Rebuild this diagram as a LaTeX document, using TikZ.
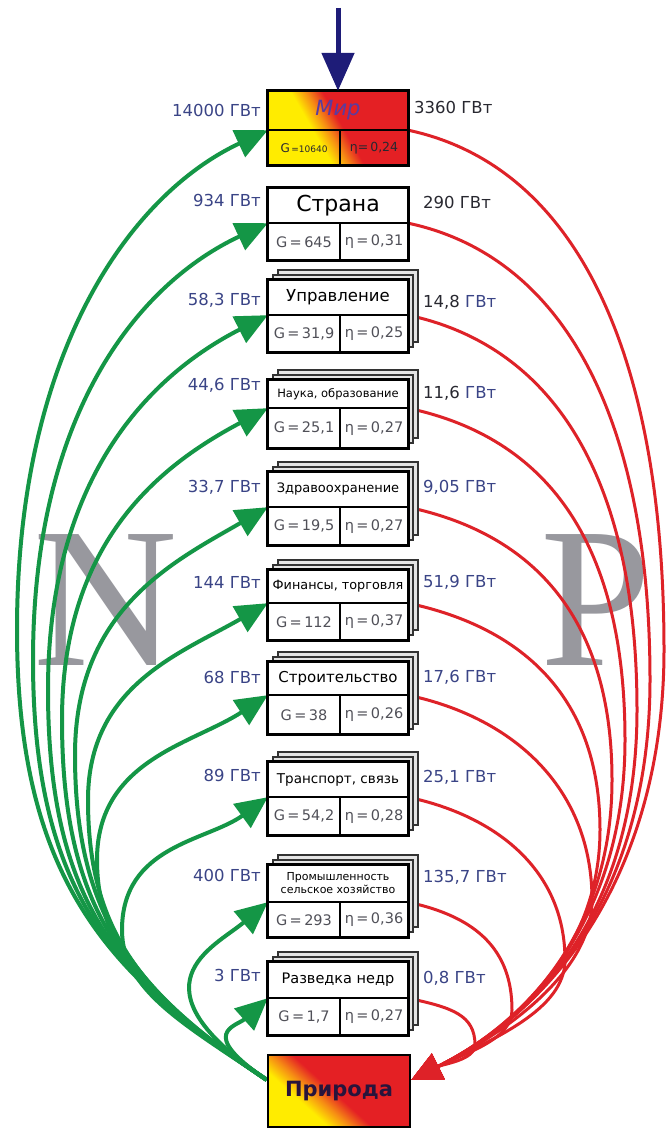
\documentclass[tikz,border=0pt]{standalone}
\usepackage{fontspec}
\setmainfont{DejaVu Sans}
\newfontfamily\letterfont{Liberation Serif}
\usetikzlibrary{arrows.meta,calc,backgrounds}

\definecolor{flowgreen}{RGB}{20,150,70}
\definecolor{flowred}{RGB}{222,34,40}
\definecolor{labelblue}{RGB}{58,68,134}
\definecolor{labeldark}{RGB}{40,40,48}
\definecolor{inflow}{RGB}{30,28,120}
\definecolor{lettergray}{RGB}{152,152,158}
\definecolor{hotyellow}{RGB}{255,236,0}
\definecolor{hotorange}{RGB}{246,140,20}
\definecolor{hotred}{RGB}{228,32,36}
\definecolor{celltext}{RGB}{80,80,88}
\definecolor{mirtext}{RGB}{90,60,160}
\definecolor{nattext}{RGB}{40,20,60}

\pgfdeclarehorizontalshading{mirshade}{100bp}{color(0bp)=(hotyellow); color(40bp)=(hotyellow); color(46bp)=(hotorange); color(52bp)=(hotred); color(100bp)=(hotred)}
\pgfdeclarehorizontalshading{natshade}{100bp}{color(0bp)=(hotyellow); color(34bp)=(hotyellow); color(41bp)=(hotorange); color(48bp)=(hotred); color(100bp)=(hotred)}

\newcommand\fs[1]{\fontsize{#1}{#1}\selectfont}

\tikzset{
  frame/.style={draw=black, line width=2.8pt},
  hdr/.style={inner sep=0pt, minimum width=140pt, align=center, text=black},
  cell/.style={inner sep=0pt, text=celltext, font=\fs{14.5}},
  sheet/.style={fill=black!10, draw=black!80, line width=1.2pt},
  gflow/.style={draw=flowgreen, line width=4pt, -{Triangle[length=32pt,width=29pt]}},
  rflow/.style={draw=flowred, line width=3pt, -{Triangle[length=30pt,width=28pt]}},
  flowlabel/.style={inner sep=0pt, text=labelblue, font=\fs{16.5}},
  bigletter/.style={inner sep=0pt, text=lettergray, font=\letterfont\fontsize{200}{200}\selectfont},
}

% sector box: name, top, divider, bottom, title, G cell, eta cell
\newcommand\sectorbox[7]{%
  \node[hdr, fill=white, minimum height={#3-#2}] (#1) at (338,{(#2+#3)/2}) {#5};
  \node[cell, fill=white, minimum width=72pt, minimum height={#4-#3}, anchor=north west] (#1-g) at (#1.south west) {#6};
  \node[cell, fill=white, minimum width=68pt, minimum height={#4-#3}, anchor=north east] (#1-e) at (#1.south east) {#7};
  \draw[line width=1.6pt] (#1-g.north east) -- (#1-g.south east);
  \draw[line width=2.4pt] (#1.south west) -- (#1.south east);
  \draw[frame] (#1.north west) rectangle (#1-e.south east);
}
\newcommand\stackedbox[7]{%
  \draw[sheet] (278,{#2-10}) rectangle (418,{#4-10});
  \draw[sheet] (273,{#2-5}) rectangle (413,{#4-5});
  \sectorbox{#1}{#2}{#3}{#4}{#5}{#6}{#7}%
}

\begin{document}
\begin{tikzpicture}[x=1pt,y=-1pt]
\useasboundingbox (0,0) rectangle (669,1129);

% ---------- world box ----------
\shade[shading=mirshade, shading angle=30] (268,91) rectangle (408,165);
\node[hdr, minimum height=39pt] (mir) at (338,110.5) {\fs{21}\itshape\color{mirtext}Мир};
\node[cell, minimum width=72pt, minimum height=35pt, anchor=north west] (mir-g) at (mir.south west) {\color{labeldark}\fs{12}G\fs{9}\,=10640};
\node[cell, minimum width=68pt, minimum height=35pt, anchor=north east] (mir-e) at (mir.south east) {\color{labeldark}\fs{12.5}η=\,0,24};
\draw[line width=1.6pt] (mir-g.north east) -- (mir-g.south east);
\draw[line width=2.4pt] (mir.south west) -- (mir.south east);
\draw[frame] (mir.north west) rectangle (mir-e.south east);

% ---------- sectors ----------
\sectorbox{str}{188}{223}{260}{\fs{22}Страна}{G\,=\,645}{η\,=\,0,31}
\stackedbox{upr}{280}{315}{352}{\fs{16.5}Управление}{G\,=\,31,9}{η\,=\,0,25}
\stackedbox{nau}{380}{408}{448}{\fs{11.5}Наука, образование}{G\,=\,25,1}{η\,=\,0,27}
\stackedbox{zdr}{472}{507}{545}{\fs{13}Здравоохранение}{G\,=\,19,5}{η\,=\,0,27}
\stackedbox{fin}{570}{603}{640}{\fs{12.8}Финансы, торговля}{G\,=\,112}{η\,=\,0,37}
\stackedbox{stroi}{662}{695}{734}{\fs{15}Строительство}{G\,=\,38}{η\,=\,0,26}
\stackedbox{tr}{762}{797}{835}{\fs{13.5}Транспорт, связь}{G\,=\,54,2}{η\,=\,0,28}
\stackedbox{prom}{865}{902}{937}{\fs{11}Промышленность\\[1pt]\fs{11}сельское хозяйство}{G\,=\,293}{η\,=\,0,36}
\stackedbox{razv}{962}{998}{1035}{\fs{14.5}Разведка недр}{G\,=\,1,7}{η\,=\,0,27}

% ---------- nature box ----------
\shade[shading=natshade, shading angle=48] (268,1055) rectangle (410,1127);
\node[inner sep=0pt, minimum width=142pt, minimum height=72pt, frame, text=nattext, font=\bfseries\fs{21}] (nat) at (339,1091) {Природа};
\coordinate (gS) at ($(nat.north west)!0.35!(nat.south west)$);
\coordinate (rE) at ($(nat.north east)!0.35!(nat.south east)$);

% ---------- inflow from above ----------
\coordinate (feed) at (338,8);
\draw[draw=inflow, line width=5pt, -{Triangle[length=38pt,width=32pt]}, color=inflow] (feed) -- (mir.north);

% ---------- power labels ----------
\node[flowlabel, anchor=east] (lmir) at (261,110) {14000 ГВт};
\node[flowlabel, anchor=east] (lstr) at (261,200) {934 ГВт};
\node[flowlabel, anchor=east] (lupr) at (261,300) {58,3 ГВт};
\node[flowlabel, anchor=east] (lnau) at (261,385) {44,6 ГВт};
\node[flowlabel, anchor=east] (lzdr) at (261,487) {33,7 ГВт};
\node[flowlabel, anchor=east] (lfin) at (261,582) {144 ГВт};
\node[flowlabel, anchor=east] (lstroi) at (261,677) {68 ГВт};
\node[flowlabel, anchor=east] (ltr) at (261,775) {89 ГВт};
\node[flowlabel, anchor=east] (lprom) at (261,875) {400 ГВт};
\node[flowlabel, anchor=east] (lrazv) at (261,975) {3 ГВт};

\node[flowlabel, anchor=west, text=labeldark] (rmir) at (414,107) {3360 ГВт};
\node[flowlabel, anchor=west, text=labeldark] (rstr) at (423,202) {290 ГВт};
\node[flowlabel, anchor=west] (rupr) at (423,302) {\textcolor{labeldark}{14,8} ГВт};
\node[flowlabel, anchor=west] (rnau) at (423,393) {\textcolor{labeldark}{11,6} ГВт};
\node[flowlabel, anchor=west] (rzdr) at (423,487) {9,05 ГВт};
\node[flowlabel, anchor=west] (rfin) at (423,582) {51,9 ГВт};
\node[flowlabel, anchor=west] (rstroi) at (423,677) {17,6 ГВт};
\node[flowlabel, anchor=west] (rtr) at (423,777) {25,1 ГВт};
\node[flowlabel, anchor=west] (rprom) at (423,877) {135,7 ГВт};
\node[flowlabel, anchor=west] (rrazv) at (423,978) {0,8 ГВт};

% ---------- flows, under the boxes ----------
\begin{pgfonlayer}{background}
\fill[white] (0,0) rectangle (669,1129);
\node[bigletter, anchor=base west] (nletter) at (33,665) {N};
\node[bigletter, anchor=base west] (pletter) at (540,665) {P};

% energy taken from nature: long arcs sweeping out to the left
\foreach \n/\lx/\ly/\a/\b/\c/\d/\al in {
  mir/17/630/180/260/280/150/25,
  str/33/660/175/240/250/140/25,
  upr/48/690/170/220/215/130/27,
  nau/62/720/160/200/180/120/28,
  zdr/75/755/150/170/145/110/30,
  fin/88/800/140/140/115/100/30,
  stroi/97/860/120/100/100/90/33,
  tr/122/930/100/60/85/75/36}
  \draw[gflow] (gS) .. controls +({-0.83*\a},{-0.56*\a}) and +(0,\b) .. (\lx,\ly)
        .. controls +(0,{-\c}) and +({-\d*cos(\al)},{\d*sin(\al)}) .. (\n.south west);
% short hooks to the two lowest sectors
\draw[gflow] (gS) .. controls +({-0.83*170},{-0.56*170}) and +({-70*cos(40)},{70*sin(40)}) .. (prom.south west);
\draw[gflow] (gS) .. controls +({-0.83*85},{-0.56*85}) and +({-42*cos(42)},{42*sin(42)}) .. (razv.south west);

% energy returned to nature
\foreach \n/\rx/\ry/\e/\f/\g/\h in {
  mir/664/650/170/300/200/180,
  str/650/680/160/260/190/170,
  upr/637/710/150/230/180/160,
  nau/625/740/140/200/160/150,
  zdr/612/780/130/160/140/140,
  fin/600/830/120/130/110/130,
  stroi/592/900/110/110/70/110,
  tr/565/960/90/90/50/90,
  prom/512/1010/70/60/30/60,
  razv/475/1045/45/30/15/35}
  \draw[rflow] (\n.south east) .. controls +({\e*cos(12)},{\e*sin(12)}) and +(0,{-\f}) .. (\rx,\ry)
        .. controls +(0,\g) and +({0.9*\h},{-0.45*\h}) .. (rE);
\end{pgfonlayer}
\end{tikzpicture}
\end{document}
